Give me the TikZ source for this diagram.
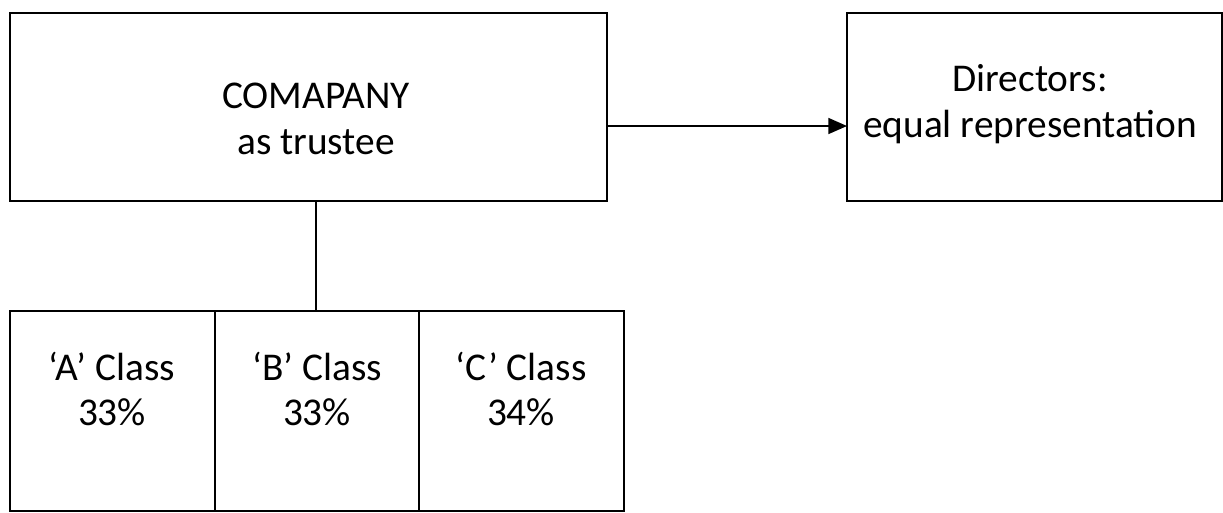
\documentclass[tikz,border=0pt]{standalone}
\usepackage{fontspec}
\setmainfont{Carlito}
\usetikzlibrary{arrows.meta}
\begin{document}
\begin{tikzpicture}[x=0.75pt,y=-0.75pt,
  box/.style={draw=black,line width=1.4pt,fill=none},
  lbl/.style={align=center,font=\fontsize{29.5}{34}\selectfont,inner sep=0pt},
  conn/.style={draw=black,line width=1.2pt}]
\useasboundingbox (0,0) rectangle (1223,512);
\draw[box] (10,13) rectangle (607,201);
\node[lbl] (comp) at (316,119) {COMAPANY\\as trustee};
\coordinate (compR) at (607,126);
\coordinate (compB) at (316,201);
\draw[box] (847,13) rectangle (1222,201);
\node[lbl] (dir) at (1030,104) {Directors:\\equal representation};
\coordinate (dirL) at (847,126);
\draw[box] (10,311) rectangle (215,511);
\draw[box] (215,311) rectangle (419,511);
\draw[box] (419,311) rectangle (624,511);
\coordinate (clsT) at (316,311);
\node[lbl] (a) at (112,389) {‘A’ Class\\33\%};
\node[lbl] (b) at (317,389) {‘B’ Class\\33\%};
\node[lbl] (c) at (521,389) {‘C’ Class\\34\%};
\draw[conn,-{Triangle[length=14pt,width=12pt]}] (compR) -- (dirL);
\draw[conn] (compB) -- (clsT);
\end{tikzpicture}
\end{document}
